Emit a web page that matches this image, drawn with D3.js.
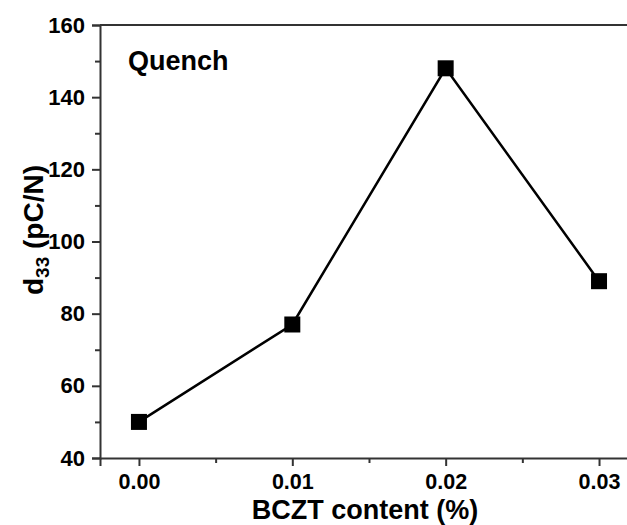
<!DOCTYPE html>
<html>
<head>
<meta charset="utf-8">
<script src="https://cdn.jsdelivr.net/npm/d3@7"></script>
<style>
  body { margin: 0; background: #fff; }
  svg { display: block; font-family: "Liberation Sans", Arial, sans-serif; }
</style>
</head>
<body>
<div id="chart"></div>
<script>
// data
const contents = [0.00, 0.01, 0.02, 0.03];
const d33 = [50, 77, 148, 89];
const xTicks = [0.00, 0.01, 0.02, 0.03];
const yTicks = [40, 60, 80, 100, 120, 140, 160];

const W = 627, H = 525;
const margin = {top: 25, right: -3, bottom: 67, left: 100};
const width = W - margin.left - margin.right,
      height = H - margin.top - margin.bottom;

const svg = d3.select("#chart").append("svg")
    .attr("width", W)
    .attr("height", H)
  .append("g")
    .attr("transform", `translate(${margin.left},${margin.top})`);

const x = d3.scaleLinear().domain([-0.00254, 0.03202]).range([0, width]);
const y = d3.scaleLinear().domain([40, 160]).range([height, 0]);

const axisColor = "#333";

// minor ticks first
svg.append("g")
  .attr("transform", `translate(0,${height})`)
  .call(d3.axisBottom(x).tickValues([0.005, 0.015, 0.025]).tickSize(5).tickFormat(""))
  .call(g => g.select(".domain").remove());
svg.append("g")
  .call(d3.axisLeft(y).tickValues([50, 70, 90, 110, 130, 150]).tickSize(5).tickFormat(""))
  .call(g => g.select(".domain").remove());

// x axis
svg.append("g")
  .attr("transform", `translate(0,${height})`)
  .call(d3.axisBottom(x).tickValues(xTicks).tickSize(8).tickPadding(8).tickFormat(d3.format(".2f")))
  .call(g => g.selectAll("text").attr("font-size", 21.5).attr("font-weight", "bold").attr("fill", "#000"));

// y axis
svg.append("g")
  .call(d3.axisLeft(y).tickValues(yTicks).tickSize(8).tickPadding(7).tickFormat(d3.format("d")))
  .call(g => g.selectAll("text").attr("font-size", 22).attr("font-weight", "bold").attr("fill", "#000"));

// top frame line
svg.append("line")
  .attr("x1", 0).attr("x2", width)
  .attr("y1", 0).attr("y2", 0);

svg.selectAll(".domain, .tick line, line")
  .attr("stroke", axisColor)
  .attr("stroke-width", 2);

// line + markers
const pts = contents.map((c, i) => [c, d33[i]]);
svg.append("path")
  .datum(pts)
  .attr("fill", "none")
  .attr("stroke", "#000")
  .attr("stroke-width", 2.5)
  .attr("d", d3.line().x(d => x(d[0])).y(d => y(d[1])));

const ms = 16;
svg.selectAll("rect.pt")
  .data(pts)
  .join("rect")
    .attr("class", "pt")
    .attr("x", d => x(d[0]) - ms / 2)
    .attr("y", d => y(d[1]) - ms / 2)
    .attr("width", ms)
    .attr("height", ms)
    .attr("fill", "#000");

// annotation
svg.append("text")
  .attr("x", 28)
  .attr("y", 45)
  .attr("font-size", 27)
  .attr("font-weight", "bold")
  .text("Quench");

// axis titles
svg.append("text")
  .attr("x", x(0.01474))
  .attr("y", height + 61)
  .attr("text-anchor", "middle")
  .attr("font-size", 27)
  .attr("font-weight", "bold")
  .text("BCZT content (%)");

const yl = svg.append("text")
  .attr("transform", `translate(-57,205) rotate(-90)`)
  .attr("text-anchor", "middle")
  .attr("font-size", 28)
  .attr("font-weight", "bold");
yl.append("tspan").text("d");
yl.append("tspan").attr("font-size", 19).attr("dy", 6).text("33");
yl.append("tspan").attr("dy", -6).text(" (pC/N)");
</script>
</body>
</html>
